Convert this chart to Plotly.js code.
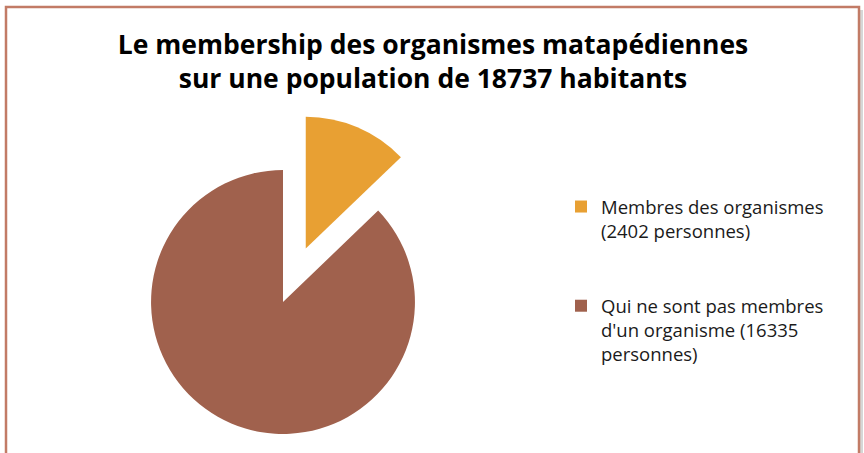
<!DOCTYPE html>
<html>
<head>
<meta charset="utf-8">
<script src="https://cdn.plot.ly/plotly-3.0.1.min.js"></script>
<style>
html, body { margin: 0; padding: 0; overflow: hidden; background: #fff; }
#chart { width: 864px; height: 500px; }
</style>
</head>
<body>
<div id="chart"></div>
<script>
// ---- data ----
const labels = [
  'Membres des organismes<br>(2402 personnes)',
  "Qui ne sont pas membres<br>d'un organisme (16335<br>personnes)"
];
const values = [2402, 16335];
const pulls = [0.44, 0];
const sliceColors = ['#E8A033', '#A0614D'];
const titleText = 'Le membership des organismes matapédiennes<br>sur une population de 18737 habitants';

// ---- layout helpers ----
const W = 864, H = 500;
// extra blank lines so the legend entries are spaced like the original
const legendLabels = labels.map((l, i) => i === 0 ? l + '<br> <br> ' : l);

const trace = {
  type: 'pie',
  labels: legendLabels,
  values: values,
  pull: pulls,
  sort: false,
  direction: 'clockwise',
  rotation: 0,
  textinfo: 'none',
  hoverinfo: 'label+value',
  marker: { colors: sliceColors, line: { width: 0 } },
  domain: { x: [93 / W, 473 / W], y: [1 - 492 / H, 1 - 112 / H] }
};

const layout = {
  width: W,
  height: H,
  margin: { l: 0, r: 0, t: 0, b: 0 },
  paper_bgcolor: '#ffffff',
  plot_bgcolor: '#ffffff',
  font: { family: 'Open Sans, sans-serif', color: '#1a1a1a' },
  title: {
    text: titleText,
    font: { family: 'Open Sans, sans-serif', size: 26.5, color: '#000000', weight: 700 },
    x: 433 / W,
    xanchor: 'center',
    xref: 'container',
    yref: 'container',
    y: 1 - 54 / H,
    yanchor: 'top'
  },
  showlegend: true,
  legend: {
    x: 561 / W,
    xanchor: 'left',
    y: 1 - 188 / H,
    yanchor: 'top',
    valign: 'top',
    font: { family: 'Open Sans, sans-serif', size: 18.5, color: '#1a1a1a' },
    bgcolor: 'rgba(0,0,0,0)'
  },
  shapes: [
    { type: 'line', xref: 'paper', yref: 'paper', x0: 861.5 / W, x1: 861.5 / W, y0: -0.2, y1: 1 - 10 / H,
      line: { color: '#d6d6d6', width: 3 } },
    { type: 'rect', xref: 'paper', yref: 'paper', x0: 6 / W, x1: 859 / W, y0: -0.2, y1: 1 - 7 / H,
      line: { color: '#C27B66', width: 2.5 }, fillcolor: 'rgba(0,0,0,0)' }
  ]
};

Plotly.newPlot('chart', [trace], layout, { displayModeBar: false, staticPlot: true });
</script>
</body>
</html>
